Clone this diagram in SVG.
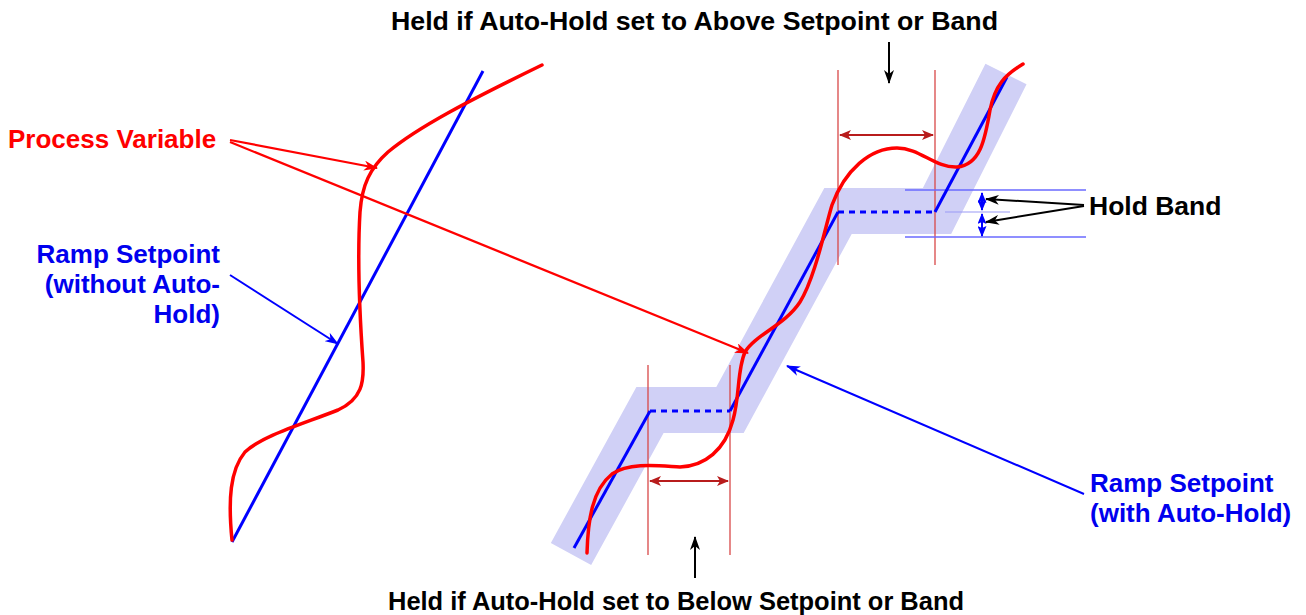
<svg xmlns="http://www.w3.org/2000/svg" width="1306" height="615" viewBox="0 0 1306 615">
<style>
text{font-family:"Liberation Sans",Arial,sans-serif;font-weight:bold}
.blk{fill:#000}
.red{fill:#ff0000}
.blu{fill:#0000ee}
.sp{stroke:#0000ff;stroke-width:3;fill:none}
.pv{stroke:#ff0000;stroke-width:3.5;fill:none;stroke-linecap:round}
.band{stroke:#d0d0f6;stroke-width:46;fill:none;stroke-linejoin:miter}
.vline{stroke:#d84848;stroke-width:1.3}
.dim{stroke:#b81c1c;stroke-width:2;marker-start:url(#drs);marker-end:url(#dre)}
.hb{stroke:#6a6aff;stroke-width:1.5}
</style>
<defs>
<marker id="ar" markerWidth="14" markerHeight="10" refX="13" refY="5" orient="auto" markerUnits="userSpaceOnUse"><path d="M0,0 L14,5 L0,10 L4,5 Z" fill="#ff0000"/></marker>
<marker id="ab" markerWidth="14" markerHeight="10" refX="13" refY="5" orient="auto" markerUnits="userSpaceOnUse"><path d="M0,0 L14,5 L0,10 L4,5 Z" fill="#0000ff"/></marker>
<marker id="ak" markerWidth="14" markerHeight="10" refX="13" refY="5" orient="auto" markerUnits="userSpaceOnUse"><path d="M0,0 L14,5 L0,10 L4,5 Z" fill="#000"/></marker>
<marker id="dre" markerWidth="12" markerHeight="10" refX="11" refY="5" orient="auto" markerUnits="userSpaceOnUse"><path d="M0,0 L12,5 L0,10 L3,5 Z" fill="#b81c1c"/></marker>
<marker id="drs" markerWidth="12" markerHeight="10" refX="11" refY="5" orient="auto-start-reverse" markerUnits="userSpaceOnUse"><path d="M0,0 L12,5 L0,10 L3,5 Z" fill="#b81c1c"/></marker>
<marker id="bbe" markerWidth="11" markerHeight="9" refX="10" refY="4.5" orient="auto" markerUnits="userSpaceOnUse"><path d="M0,0 L11,4.5 L0,9 L2,4.5 Z" fill="#0000ff"/></marker>
<marker id="bbs" markerWidth="11" markerHeight="9" refX="10" refY="4.5" orient="auto-start-reverse" markerUnits="userSpaceOnUse"><path d="M0,0 L11,4.5 L0,9 L2,4.5 Z" fill="#0000ff"/></marker>
</defs>
<rect width="1306" height="615" fill="#ffffff"/>

<g id="hold-band-shade">
<polyline class="band" points="571,554 650,410 730,410 838,211 937,211 1006,74"/>
</g>

<g id="left-chart">
<line class="sp" x1="232" y1="542" x2="483" y2="71"/>
<path class="pv" d="M232,540 C228,500 230,470 245,452 C262,436 300,425 338,410 C362,399 364,382 363,362 C360,320 357,262 360,212 C362,185 370,168 388,152 C418,127 470,100 542,65"/>
</g>

<g id="right-chart">
<line class="vline" x1="648" y1="365" x2="648" y2="555"/>
<line class="vline" x1="730" y1="365" x2="730" y2="555"/>
<line class="vline" x1="838" y1="70" x2="838" y2="265"/>
<line class="vline" x1="935" y1="70" x2="935" y2="265"/>
<line class="hb" x1="905" y1="190" x2="1086" y2="190"/>
<line class="hb" x1="905" y1="237" x2="1086" y2="237"/>
<line x1="945" y1="212" x2="1010" y2="212" stroke="#9a9af5" stroke-width="1.2"/>
<polyline class="sp" points="574,548 650,411"/>
<line class="sp" x1="650" y1="411" x2="730" y2="411" stroke-dasharray="6,5"/>
<polyline class="sp" points="730,411 838,212"/>
<line class="sp" x1="838" y1="212" x2="935" y2="212" stroke-dasharray="6,5"/>
<polyline class="sp" points="935,212 1007,77"/>
<path class="pv" d="M587,553 C588,520 592,490 612,474 C630,462 660,466 680,467 C705,466 725,450 733,420 C740,395 737,370 745,352 C755,335 785,325 800,302 C815,278 825,228 832,205 C845,170 870,148 897,148 C920,148 935,168 957,167 C980,165 985,140 990,110 C995,85 1005,75 1023,64"/>
<line class="dim" x1="650" y1="481" x2="728" y2="481"/>
<line class="dim" x1="840" y1="135" x2="933" y2="135"/>
<line x1="982" y1="193" x2="982" y2="210" stroke="#0000ff" stroke-width="2" marker-start="url(#bbs)" marker-end="url(#bbe)"/>
<line x1="982" y1="214" x2="982" y2="236" stroke="#0000ff" stroke-width="2" marker-start="url(#bbs)" marker-end="url(#bbe)"/>
</g>

<g id="connectors">
<line x1="230" y1="140" x2="377" y2="168" stroke="#ff0000" stroke-width="2.2" marker-end="url(#ar)"/>
<line x1="230" y1="142" x2="748" y2="353" stroke="#ff0000" stroke-width="2.2" marker-end="url(#ar)"/>
<line x1="230" y1="275" x2="338" y2="344" stroke="#0000ff" stroke-width="2" marker-end="url(#ab)"/>
<line x1="1084" y1="494" x2="787" y2="366" stroke="#0000ff" stroke-width="2" marker-end="url(#ab)"/>
<line x1="1084" y1="205" x2="986" y2="199" stroke="#000" stroke-width="2" marker-end="url(#ak)"/>
<line x1="1084" y1="206" x2="986" y2="222" stroke="#000" stroke-width="2" marker-end="url(#ak)"/>
<line x1="889" y1="42" x2="889" y2="83" stroke="#000" stroke-width="2" marker-end="url(#ak)"/>
<line x1="695" y1="578" x2="695" y2="537" stroke="#000" stroke-width="2" marker-end="url(#ak)"/>
</g>

<g id="label-top"><text class="blk" x="391" y="30" font-size="26.5" textLength="607" lengthAdjust="spacingAndGlyphs">Held if Auto-Hold set to Above Setpoint or Band</text></g>
<g id="label-bottom"><text class="blk" x="388" y="610" font-size="25.5" textLength="576" lengthAdjust="spacingAndGlyphs">Held if Auto-Hold set to Below Setpoint or Band</text></g>
<g id="label-pv"><text class="red" x="8" y="148" font-size="26">Process Variable</text></g>
<g id="label-sp-without">
<text class="blu" x="220" y="263" font-size="26" text-anchor="end">Ramp Setpoint</text>
<text class="blu" x="220" y="293" font-size="26" text-anchor="end">(without Auto-</text>
<text class="blu" x="220" y="323" font-size="26" text-anchor="end">Hold)</text>
</g>
<g id="label-holdband"><text class="blk" x="1089" y="215" font-size="26.5">Hold Band</text></g>
<g id="label-sp-with">
<text class="blu" x="1090" y="492" font-size="26">Ramp Setpoint</text>
<text class="blu" x="1090" y="522" font-size="26">(with Auto-Hold)</text>
</g>
</svg>
